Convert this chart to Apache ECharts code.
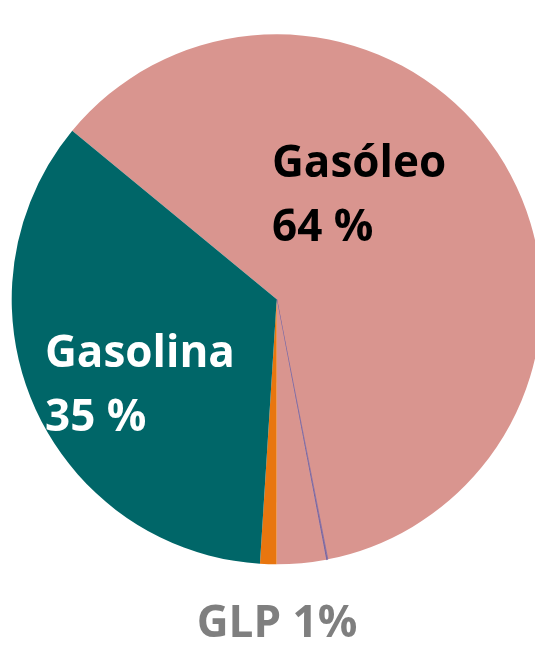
<!DOCTYPE html>
<html>
<head>
<meta charset="utf-8">
<script src="https://cdn.jsdelivr.net/npm/echarts@6/dist/echarts.min.js"></script>
<style>
  html, body { margin: 0; padding: 0; background: #fff; }
  #chart { width: 535px; height: 645px; }
</style>
</head>
<body>
<div id="chart"></div>
<script>
// slices clockwise from the Gasolina/Gasóleo boundary
const sliceNames = ["Gasóleo", "divisória", "Gasóleo ", "GLP", "Gasolina"];
const sliceValues = [61, 0.1, 3, 1, 35];
const labelNames = ["Gasóleo", null, null, "GLP", "Gasolina"];
const labelShares = ["64 %", null, null, "1%", "35 %"];

const sliceColors = ["#D9958F", "#7F68A0", "#D9958F", "#E8760F", "#006668"];
const labelColors = ["#000000", null, null, "#7F7F7F", "#FFFFFF"];
const labelPos = { 0: [272, 196, "left"], 3: [277, 624, "center"], 4: [45, 386, "left"] };

const chart = echarts.init(document.getElementById("chart"));

const data = sliceValues.map((v, i) => ({
  name: sliceNames[i],
  value: v,
  itemStyle: {
    color: sliceColors[i],
    borderColor: i === 1 ? sliceColors[i] : "transparent",
    borderWidth: i === 1 ? 0.8 : 0,
  },
  label: labelNames[i]
    ? {
        show: true,
        color: labelColors[i],
        formatter: labelNames[i] === "GLP"
          ? labelNames[i] + " " + labelShares[i]
          : labelNames[i] + "\n" + labelShares[i],
      }
    : { show: false },
}));

chart.setOption({
  animation: false,
  series: [
    {
      type: "pie",
      center: [276.7, 299.3],
      radius: 265,
      startAngle: 140.5,
      clockwise: true,
      avoidLabelOverlap: false,
      silent: true,
      data: data,
      label: {
        position: "inside",
        fontFamily: "Open Sans",
        fontWeight: "bold",
        fontSize: 44,
        lineHeight: 64,
      },
      labelLine: { show: false },
      labelLayout: (p) => {
        const pos = labelPos[p.dataIndex];
        if (!pos) return {};
        return { x: pos[0], y: pos[1], align: pos[2], verticalAlign: "middle" };
      },
    },
  ],
});
</script>
</body>
</html>
